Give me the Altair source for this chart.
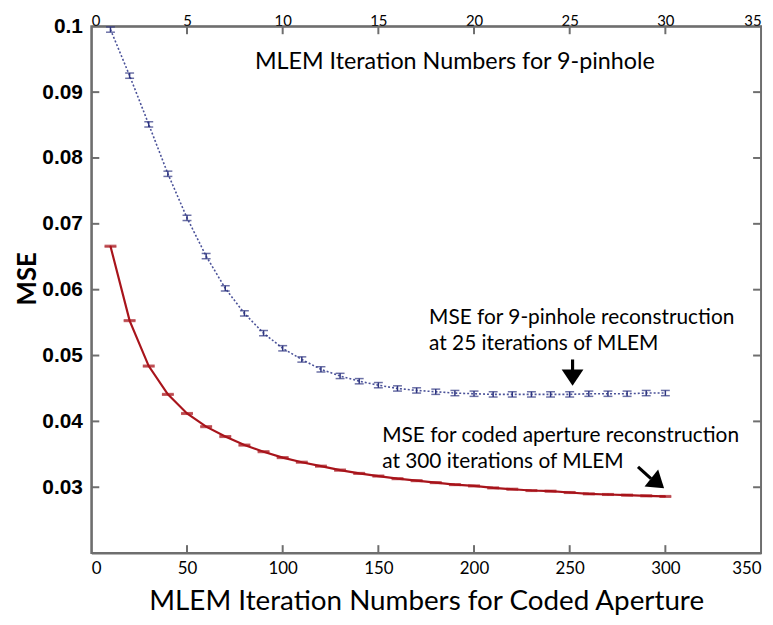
import altair as alt
import pandas as pd

# ---------------- data ----------------
pin_iter = list(range(1, 31))
pin_mse = [0.0995, 0.0925, 0.0851, 0.0776, 0.0709, 0.0651, 0.0602, 0.0564, 0.0534, 0.0511,
           0.0494, 0.0479, 0.0469, 0.0461, 0.0455, 0.0450, 0.0447, 0.0445, 0.0443, 0.0442,
           0.0441, 0.0441, 0.0441, 0.0441, 0.0441, 0.0442, 0.0442, 0.0442, 0.0443, 0.0443]
pin_err = [0.0004, 0.0004, 0.0004, 0.0004, 0.0004, 0.0004, 0.0004, 0.0004, 0.0004, 0.0004,
           0.0004, 0.0004, 0.0004, 0.0004, 0.0004, 0.0004, 0.0004, 0.0004, 0.0004, 0.0004,
           0.0004, 0.0004, 0.0004, 0.0004, 0.0004, 0.0004, 0.0004, 0.0004, 0.0004, 0.0004]

coded_iter = [10, 20, 30, 40, 50, 60, 70, 80, 90, 100, 110, 120, 130, 140, 150,
              160, 170, 180, 190, 200, 210, 220, 230, 240, 250, 260, 270, 280, 290, 300]
coded_mse = [0.0666, 0.0553, 0.0484, 0.0441, 0.0412, 0.0392, 0.0377, 0.0364, 0.0354, 0.0345,
             0.0338, 0.0332, 0.0326, 0.0321, 0.0317, 0.0313, 0.0310, 0.0307, 0.0304, 0.0302,
             0.0299, 0.0297, 0.0295, 0.0294, 0.0292, 0.0290, 0.0289, 0.0288, 0.0287, 0.0286]
coded_err = [0.0001, 0.0001, 0.0001, 0.0001, 0.0001, 0.0001, 0.0001, 0.0001, 0.0001, 0.0001,
             0.0001, 0.0001, 0.0001, 0.0001, 0.0001, 0.0001, 0.0001, 0.0001, 0.0001, 0.0001,
             0.0001, 0.0001, 0.0001, 0.0001, 0.0001, 0.0001, 0.0001, 0.0001, 0.0001, 0.0001]

top_ticks = [0, 5, 10, 15, 20, 25, 30, 35]
bottom_ticks = [0, 50, 100, 150, 200, 250, 300, 350]
y_ticks = [0.03, 0.04, 0.05, 0.06, 0.07, 0.08, 0.09, 0.1]

title_top = "MLEM Iteration Numbers for 9-pinhole"
x_title = "MLEM Iteration Numbers for Coded Aperture"
y_title = "MSE"
ann_pin = ["MSE for 9-pinhole reconstruction", "at 25 iterations of MLEM"]
ann_coded = ["MSE for coded aperture reconstruction", "at 300 iterations of MLEM"]

# ---------------- styling ----------------
W, H = 675, 531
FONT = "Lato"
BLUE_LINE = "#4b5299"
BLUE_BAR = "#2e3580"
RED = "#a8141b"
FRAME = "#6e6e6e"
TICK_LEN = 8

pin_df = pd.DataFrame({"it": pin_iter, "mse": pin_mse,
                       "lo": [m - e for m, e in zip(pin_mse, pin_err)],
                       "hi": [m + e for m, e in zip(pin_mse, pin_err)]})
coded_df = pd.DataFrame({"it": coded_iter, "mse": coded_mse,
                         "lo": [m - e for m, e in zip(coded_mse, coded_err)],
                         "hi": [m + e for m, e in zip(coded_mse, coded_err)]})

yscale = alt.Scale(domain=[0.02, 0.1], nice=False, zero=False)
top_scale = alt.Scale(domain=[0, 35], nice=False, zero=False)
bot_scale = alt.Scale(domain=[0, 350], nice=False, zero=False)

top_axis = alt.Axis(orient="top", values=top_ticks, tickSize=0, labelFlush=True,
                    labelFont=FONT, labelFontSize=15, labelColor="black", labelPadding=1,
                    labelBaseline="alphabetic",
                    domainColor=FRAME, domainWidth=2, grid=False)
bot_axis = alt.Axis(orient="bottom", values=bottom_ticks, tickSize=0, labelFlush=True,
                    labelFont=FONT, labelFontSize=17, labelColor="black", labelPadding=8,
                    domainColor=FRAME, domainWidth=2, grid=False,
                    titleFont=FONT, titleFontSize=28, titleFontWeight="normal",
                    titleColor="black", titleBaseline="alphabetic", titleY=57)
y_axis = alt.Axis(values=y_ticks, format=".2~f", tickSize=0, labelFont="Liberation Sans",
                  labelFontWeight="bold", labelFontSize=21, labelColor="black",
                  labelPadding=9, domainColor=FRAME, domainWidth=2, grid=False,
                  titleFont=FONT, titleFontSize=26, titleFontWeight="bold",
                  titleColor="black", titlePadding=1, titleY=254)


def XB(field):
    return alt.X(field, type="quantitative", scale=top_scale, axis=top_axis, title=None)


def XR(field):
    return alt.X(field, type="quantitative", scale=bot_scale, axis=bot_axis, title=x_title)


def YY(field):
    return alt.Y(field, type="quantitative", scale=yscale, axis=y_axis, title=y_title)


# ---------------- 9-pinhole group (top axis) ----------------
pin_base = alt.Chart(pin_df)
pin_line = pin_base.mark_line(color=BLUE_LINE, strokeWidth=1.6, strokeDash=[2, 2]).encode(
    x=XB("it"), y=YY("mse"))
pin_bar = pin_base.mark_rule(color=BLUE_BAR, strokeWidth=1.5).encode(
    x=XB("it"), y=YY("lo"), y2="hi:Q")
pin_cap_lo = pin_base.mark_tick(color=BLUE_BAR, orient="horizontal", size=9, thickness=1.5).encode(
    x=XB("it"), y=YY("lo"))
pin_cap_hi = pin_base.mark_tick(color=BLUE_BAR, orient="horizontal", size=9, thickness=1.5).encode(
    x=XB("it"), y=YY("hi"))
top_tick_marks = alt.Chart(pd.DataFrame({"v": top_ticks[1:-1]})).mark_rule(
    color=FRAME, strokeWidth=2).encode(
    x=XB("v"), y=alt.value(0), y2=alt.value(TICK_LEN))

blue_group = alt.layer(pin_line, pin_bar, pin_cap_lo, pin_cap_hi, top_tick_marks)

# ---------------- coded aperture group (bottom axis) ----------------
coded_base = alt.Chart(coded_df)
coded_line = coded_base.mark_line(color=RED, strokeWidth=2.2).encode(x=XR("it"), y=YY("mse"))
coded_bar = coded_base.mark_rule(color=RED, strokeWidth=1.5).encode(
    x=XR("it"), y=YY("lo"), y2="hi:Q")
coded_cap_lo = coded_base.mark_tick(color=RED, orient="horizontal", size=12, thickness=1.8).encode(
    x=XR("it"), y=YY("lo"))
coded_cap_hi = coded_base.mark_tick(color=RED, orient="horizontal", size=12, thickness=1.8).encode(
    x=XR("it"), y=YY("hi"))

bot_tick_marks = alt.Chart(pd.DataFrame({"v": bottom_ticks[1:-1]})).mark_rule(
    color=FRAME, strokeWidth=2).encode(
    x=XR("v"), y=alt.value(H), y2=alt.value(H - TICK_LEN))
ytk = pd.DataFrame({"v": y_ticks[:-1]})
left_tick_marks = alt.Chart(ytk).mark_rule(color=FRAME, strokeWidth=2).encode(
    y=YY("v"), x=alt.value(0), x2=alt.value(TICK_LEN))
right_tick_marks = alt.Chart(ytk).mark_rule(color=FRAME, strokeWidth=2).encode(
    y=YY("v"), x=alt.value(W - TICK_LEN), x2=alt.value(W))

# annotations (positions in data units of the bottom / y scales)
title_df = pd.DataFrame({"t": [title_top], "x": [190.0], "y": [0.0945]})
ann_df = pd.DataFrame({
    "t": [ann_pin[0], ann_pin[1], ann_coded[0], ann_coded[1]],
    "x": [176.5, 176.5, 152.0, 152.0],
    "y": [0.0557, 0.0517, 0.0378, 0.0339],
})
text_title = alt.Chart(title_df).mark_text(font=FONT, fontSize=23.5, align="center",
                                           baseline="middle", color="black").encode(
    x=XR("x"), y=YY("y"), text="t:N")
text_ann = alt.Chart(ann_df).mark_text(font=FONT, fontSize=21, align="left",
                                       baseline="middle", color="black").encode(
    x=XR("x"), y=YY("y"), text="t:N")

arrows = pd.DataFrame({
    "x": [251.5, 285.7], "y": [0.0494, 0.0331],
    "x2": [251.5, 292.5], "y2": [0.0475, 0.0313],
})
arrow_shafts = alt.Chart(arrows).mark_rule(color="black", strokeWidth=3.2).encode(
    x=XR("x"), y=YY("y"), x2="x2:Q", y2="y2:Q")
heads = pd.DataFrame({"x": [251.5, 296.0], "y": [0.04665, 0.03063], "ang": [0, 308.7]})
HEAD = "M-1,-0.75L1,-0.75L0,0.75Z"
arrow_heads = alt.Chart(heads).mark_point(shape=HEAD, filled=True, color="black", opacity=1,
                                          size=480, strokeWidth=0).encode(
    x=XR("x"), y=YY("y"), angle=alt.Angle("ang:Q", scale=None))

red_group = alt.layer(coded_line, coded_bar, coded_cap_lo, coded_cap_hi,
                      bot_tick_marks, left_tick_marks, right_tick_marks,
                      text_title, text_ann, arrow_shafts, arrow_heads)

chart = alt.layer(blue_group, red_group).resolve_scale(x="independent").properties(
    width=W, height=H,
    autosize=alt.AutoSizeParams(type="none"),
    padding={"left": 84, "top": 16, "right": 4, "bottom": 62},
    background="white",
).configure_view(stroke=FRAME, strokeWidth=2)

chart.save("out.html", embed_options={"renderer": "svg", "actions": False})
